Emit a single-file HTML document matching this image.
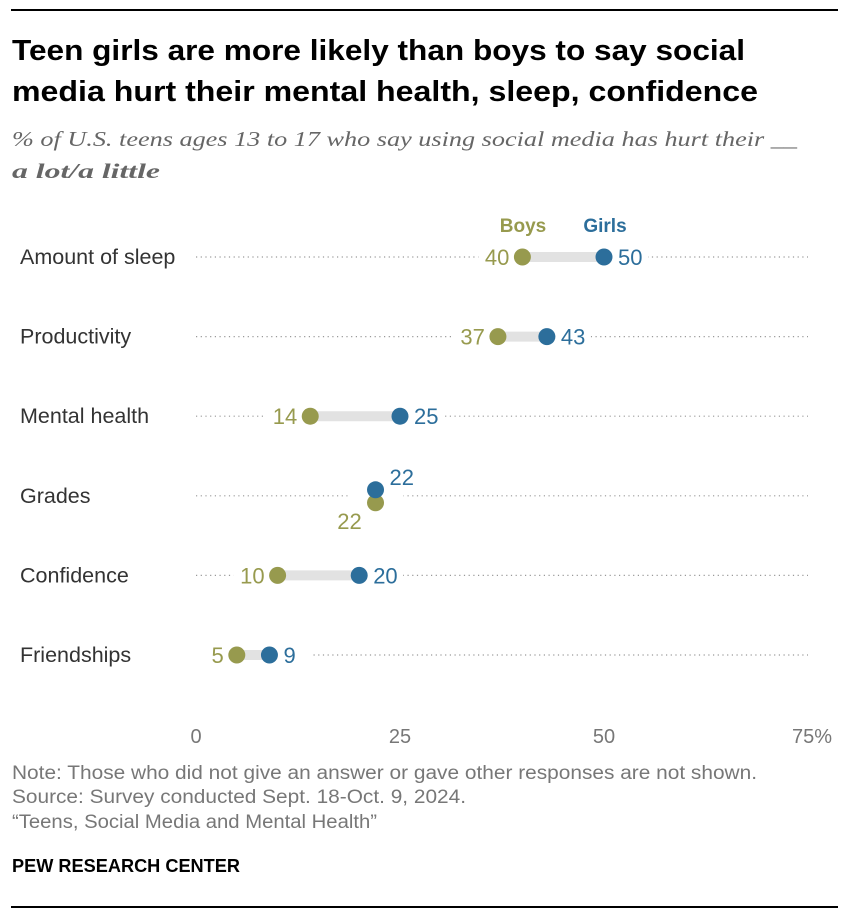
<!DOCTYPE html>
<html><head><meta charset="utf-8"><style>
body{margin:0;background:#fff;width:850px;height:918px;overflow:hidden;font-family:"Liberation Sans",sans-serif}
</style></head><body>
<svg width="850" height="918">
<line x1="11" y1="10" x2="838" y2="10" stroke="#000" stroke-width="2"/>
<text x="12" y="60" font-size="29" font-weight="bold" fill="#000" textLength="733" lengthAdjust="spacingAndGlyphs">Teen girls are more likely than boys to say social</text>
<text x="12" y="101" font-size="29" font-weight="bold" fill="#000" textLength="746" lengthAdjust="spacingAndGlyphs">media hurt their mental health, sleep, confidence</text>
<text x="12" y="146" font-size="21" font-style="italic" font-family="Liberation Serif,serif" fill="#666" textLength="785" lengthAdjust="spacingAndGlyphs">% of U.S. teens ages 13 to 17 who say using social media has hurt their __</text>
<text x="12" y="178" font-size="21" font-style="italic" font-weight="bold" font-family="Liberation Serif,serif" fill="#666" textLength="148" lengthAdjust="spacingAndGlyphs">a lot/a little</text>
<text x="523" y="232" font-size="19" font-weight="bold" fill="#979a4e" text-anchor="middle">Boys</text>
<text x="605" y="232" font-size="19" font-weight="bold" fill="#2c6e9b" text-anchor="middle">Girls</text>
<g id="plot"></g>
<text x="12" y="779" font-size="19" fill="#777" textLength="745" lengthAdjust="spacingAndGlyphs">Note: Those who did not give an answer or gave other responses are not shown.</text>
<text x="12" y="803" font-size="19" fill="#777" textLength="454" lengthAdjust="spacingAndGlyphs">Source: Survey conducted Sept. 18-Oct. 9, 2024.</text>
<text x="12" y="828" font-size="19" fill="#777" textLength="365" lengthAdjust="spacingAndGlyphs">“Teens, Social Media and Mental Health”</text>
<text x="12" y="872" font-size="18" font-weight="bold" fill="#000" textLength="228" lengthAdjust="spacingAndGlyphs">PEW RESEARCH CENTER</text>
<line x1="11" y1="907" x2="838" y2="907" stroke="#000" stroke-width="2"/>
</svg>
<script>
const categories=["Amount of sleep","Productivity","Mental health","Grades","Confidence","Friendships"];
const boys=[40,37,14,22,10,5];
const girls=[50,43,25,22,20,9];
const ticks=[0,25,50,75];
const tickLabels=["0","25","50","75%"];
const NS="http://www.w3.org/2000/svg";
const g=document.getElementById("plot");
const x=v=>196+v*8.16;
const y=i=>257+i*79.6;
function mk(t,a,txt){const e=document.createElementNS(NS,t);for(const k in a)e.setAttribute(k,a[k]);if(txt!=null)e.textContent=txt;g.appendChild(e);return e;}
ticks.forEach((t,i)=>{
const e=mk("text",{x:x(t)+(i==3?4:0),y:743,"font-size":20,fill:"#777","text-anchor":"middle"},tickLabels[i]);


});
categories.forEach((c,i)=>{
const yy=y(i);
const lab=mk("text",{x:20,y:yy+7,"font-size":21.5,fill:"#333"},c);


const dl=mk("line",{x1:x(0),y1:yy,x2:x(75),y2:yy,stroke:"#999","stroke-width":1.2,"stroke-dasharray":"1.2 3.5"});


const b=boys[i],gr=girls[i];
const same=b===gr;
const by=same?yy+7:yy, gy=same?yy-6:yy;
const lo=Math.min(b,gr),hi=Math.max(b,gr);
const pad=same?28:44;
const bg=mk("rect",{x:x(lo)-pad,y:yy-12,width:x(hi)-x(lo)+2*pad,height:24,fill:"#fff"});


const cn=mk("line",{x1:x(b),y1:yy,x2:x(gr),y2:yy,stroke:"#e2e2e2","stroke-width":10});


const bd=mk("circle",{cx:x(b),cy:by,r:8.5,fill:"#979a4e"});


const gd=mk("circle",{cx:x(gr),cy:gy,r:8.5,fill:"#2c6e9b"});


const bl=same?mk("text",{x:x(b)-26,y:yy+33,"font-size":22,fill:"#979a4e","text-anchor":"middle"},b)
:mk("text",{x:x(b)-13,y:yy+8,"font-size":22,fill:"#979a4e","text-anchor":"end"},b);


const gl=mk("text",{x:x(gr)+14,y:same?yy-11:yy+8,"font-size":22,fill:"#2c6e9b"},gr);


});
</script>
</body></html>
